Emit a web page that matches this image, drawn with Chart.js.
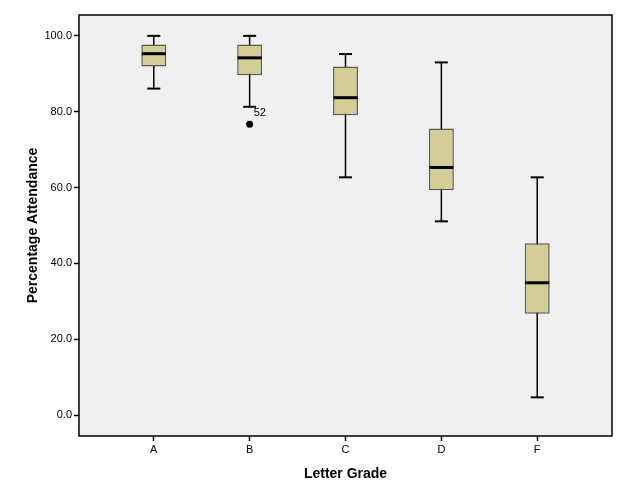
<!DOCTYPE html>
<html lang="en">
<head>
  <meta charset="UTF-8">
  <title>Percentage Attendance by Letter Grade</title>
  <script src="https://cdn.jsdelivr.net/npm/chart.js"></script>
  <style>
    html, body {
      margin: 0;
      padding: 0;
      background-color: #ffffff;
      font-family: 'Liberation Sans', Arial, sans-serif;
    }

    .wrap {
      width: 627px;
      height: 502px;
      position: relative;
    }
  </style>
</head>
<body>
  <div class="wrap">
    <canvas id="chart"></canvas>
  </div>

  <script>
    // box plot summaries
    const grades = ['A', 'B', 'C', 'D', 'F'];
    const whiskerLow = [86.1, 81.3, 62.7, 51.1, 4.7];
    const q1 = [91.9, 89.6, 79.1, 59.3, 26.7];
    const median = [95.3, 94.2, 83.7, 65.3, 34.9];
    const q3 = [97.7, 97.7, 91.9, 75.6, 45.3];
    const whiskerHigh = [100.0, 100.0, 95.2, 93.0, 62.7];

    const outlierGrade = [1];
    const outlierValue = [76.7];
    const outlierLabel = ['52'];

    const yTicks = [0, 20, 40, 60, 80, 100];

    const boxFill = '#d3ce97';
    const boxEdge = '#5a5a48';

    const idx = grades.map((g, i) => i);

    // vertical whisker line through each box, gaps between groups
    const whiskerData = [];
    idx.forEach(i => {
      whiskerData.push({ x: i, y: whiskerLow[i] });
      whiskerData.push({ x: i, y: whiskerHigh[i] });
      whiskerData.push({ x: i, y: null });
    });

    const capData = [];
    idx.forEach(i => {
      capData.push({ x: i, y: whiskerLow[i] });
      capData.push({ x: i, y: whiskerHigh[i] });
    });

    // frame around the plot area and the case label next to the outlier
    const framePlugin = {
      id: 'frame',
      afterDatasetsDraw(chart) {
        const { ctx, chartArea, scales } = chart;
        ctx.save();
        ctx.strokeStyle = '#000';
        ctx.lineWidth = 1.5;
        ctx.strokeRect(chartArea.left, chartArea.top,
                       chartArea.right - chartArea.left, chartArea.bottom - chartArea.top);
        ctx.fillStyle = '#000';
        ctx.font = '11px "Liberation Sans", Arial, sans-serif';
        ctx.textBaseline = 'middle';
        outlierGrade.forEach((g, k) => {
          const px = scales.x.getPixelForValue(g);
          const py = scales.y.getPixelForValue(outlierValue[k]);
          ctx.fillText(outlierLabel[k], px + 4, py - 11);
        });
        ctx.restore();
      }
    };

    const plotBg = {
      id: 'plotBg',
      beforeDatasetsDraw(chart) {
        const { ctx, chartArea } = chart;
        ctx.save();
        ctx.fillStyle = '#f0f0f0';
        ctx.fillRect(chartArea.left, chartArea.top,
                     chartArea.right - chartArea.left, chartArea.bottom - chartArea.top);
        ctx.restore();
      }
    };

    const ctx = document.getElementById('chart').getContext('2d');

    new Chart(ctx, {
      data: {
        datasets: [
          {
            type: 'line',
            data: whiskerData,
            borderColor: '#000',
            borderWidth: 1.5,
            pointRadius: 0,
            spanGaps: false,
            order: 4
          },
          {
            type: 'bar',
            data: idx.map(i => ({ x: i, y: [q1[i], q3[i]] })),
            backgroundColor: boxFill,
            borderColor: boxEdge,
            borderWidth: 1.5,
            borderSkipped: false,
            barPercentage: 0.26,
            categoryPercentage: 1,
            order: 3
          },
          {
            type: 'scatter',
            data: capData,
            pointStyle: 'line',
            pointRadius: 6.5,
            pointHoverRadius: 6.5,
            borderColor: '#000',
            borderWidth: 2,
            order: 2
          },
          {
            type: 'scatter',
            data: idx.map(i => ({ x: i, y: median[i] })),
            pointStyle: 'line',
            pointRadius: 12,
            pointHoverRadius: 12,
            borderColor: '#000',
            borderWidth: 3,
            order: 1
          },
          {
            type: 'scatter',
            data: outlierGrade.map((g, k) => ({ x: g, y: outlierValue[k] })),
            pointStyle: 'circle',
            pointRadius: 3.5,
            backgroundColor: '#000',
            borderColor: '#000',
            borderWidth: 0,
            order: 0
          }
        ]
      },
      options: {
        responsive: true,
        maintainAspectRatio: false,
        animation: false,
        layout: {
          padding: { left: 0, right: 13, top: 13, bottom: 0 }
        },
        plugins: {
          legend: { display: false },
          tooltip: { enabled: false }
        },
        scales: {
          x: {
            type: 'linear',
            min: -0.78,
            max: 4.78,
            offset: false,
            afterBuildTicks: scale => {
              scale.ticks = idx.map(i => ({ value: i }));
            },
            afterFit: scale => { scale.height = 66; },
            ticks: {
              color: '#000',
              padding: 2,
              font: { family: '"Liberation Sans", Arial, sans-serif', size: 11 },
              callback: v => grades[v]
            },
            grid: {
              display: true,
              offset: false,
              drawOnChartArea: false,
              drawTicks: true,
              tickLength: 5,
              tickColor: '#000',
              tickWidth: 1.5
            },
            border: { display: false },
            title: {
              display: true,
              text: 'Letter Grade',
              color: '#000',
              padding: { top: 0, bottom: 19 },
              font: { family: '"Liberation Sans", Arial, sans-serif', size: 14, weight: 'bold' }
            }
          },
          y: {
            type: 'linear',
            min: -5.5,
            max: 105.5,
            afterBuildTicks: scale => {
              scale.ticks = yTicks.map(v => ({ value: v }));
            },
            afterFit: scale => { scale.width = 79; },
            ticks: {
              color: '#000',
              padding: 2,
              font: { family: '"Liberation Sans", Arial, sans-serif', size: 11 },
              callback: v => v.toFixed(1)
            },
            grid: {
              display: true,
              drawOnChartArea: false,
              drawTicks: true,
              tickLength: 5,
              tickColor: '#000',
              tickWidth: 1.5
            },
            border: { display: false },
            title: {
              display: true,
              text: 'Percentage Attendance',
              color: '#000',
              padding: { top: 25, bottom: 0 },
              font: { family: '"Liberation Sans", Arial, sans-serif', size: 14, weight: 'bold' }
            }
          }
        }
      },
      plugins: [plotBg, framePlugin]
    });
  </script>
</body>
</html>
